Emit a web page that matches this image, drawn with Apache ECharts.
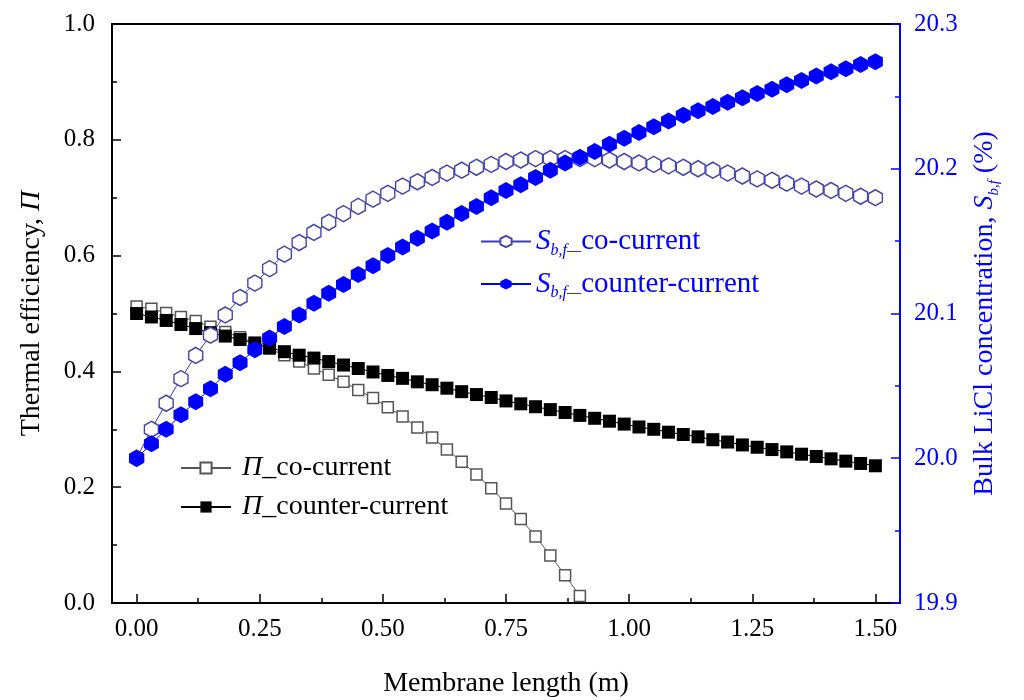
<!DOCTYPE html>
<html>
<head>
<meta charset="utf-8">
<title>Thermal efficiency and LiCl concentration</title>
<script src="https://cdn.jsdelivr.net/npm/echarts@6/dist/echarts.min.js"></script>
<style>
  html, body { margin: 0; padding: 0; background: #fff; }
  #main { width: 1024px; height: 700px; }
</style>
</head>
<body>
<div id="main"></div>
<script>
// membrane length (m)
var lengthX = [0.00, 0.03, 0.06, 0.09, 0.12, 0.15, 0.18, 0.21, 0.24, 0.27,
  0.30, 0.33, 0.36, 0.39, 0.42, 0.45, 0.48, 0.51, 0.54, 0.57,
  0.60, 0.63, 0.66, 0.69, 0.72, 0.75, 0.78, 0.81, 0.84, 0.87,
  0.90, 0.93, 0.96, 0.99, 1.02, 1.05, 1.08, 1.11, 1.14, 1.17,
  1.20, 1.23, 1.26, 1.29, 1.32, 1.35, 1.38, 1.41, 1.44, 1.47, 1.50];

// thermal efficiency, co-current (stops at 0.90 m)
var piCo = [0.512, 0.508, 0.501, 0.494, 0.487, 0.477, 0.468, 0.459, 0.449, 0.439,
  0.428, 0.417, 0.405, 0.394, 0.382, 0.368, 0.354, 0.338, 0.322, 0.303,
  0.286, 0.265, 0.244, 0.222, 0.198, 0.172, 0.145, 0.115, 0.082, 0.048, 0.012];

// thermal efficiency, counter-current
var piCounter = [0.500, 0.494, 0.488, 0.481, 0.474, 0.467, 0.461, 0.455, 0.449, 0.441,
  0.434, 0.428, 0.423, 0.417, 0.411, 0.405, 0.399, 0.393, 0.388, 0.382,
  0.377, 0.371, 0.365, 0.360, 0.355, 0.349, 0.344, 0.339, 0.334, 0.329,
  0.324, 0.319, 0.314, 0.309, 0.304, 0.300, 0.295, 0.291, 0.287, 0.282,
  0.278, 0.273, 0.269, 0.265, 0.261, 0.257, 0.253, 0.249, 0.245, 0.241, 0.237];

// bulk LiCl concentration (%), co-current
var sCo = [20.000, 20.020, 20.038, 20.055, 20.071, 20.085, 20.099, 20.111, 20.121, 20.131,
  20.141, 20.149, 20.156, 20.163, 20.169, 20.174, 20.179, 20.183, 20.188, 20.191,
  20.194, 20.197, 20.199, 20.201, 20.203, 20.205, 20.206, 20.207, 20.207, 20.207,
  20.207, 20.207, 20.206, 20.205, 20.204, 20.203, 20.202, 20.201, 20.200, 20.199,
  20.197, 20.195, 20.193, 20.192, 20.190, 20.188, 20.186, 20.185, 20.183, 20.181, 20.180];

// bulk LiCl concentration (%), counter-current
var sCounter = [20.000, 20.010, 20.020, 20.030, 20.039, 20.048, 20.058, 20.066, 20.075, 20.083,
  20.091, 20.099, 20.107, 20.114, 20.120, 20.127, 20.133, 20.140, 20.146, 20.152,
  20.157, 20.163, 20.169, 20.174, 20.180, 20.185, 20.189, 20.194, 20.199, 20.204,
  20.208, 20.212, 20.217, 20.221, 20.225, 20.229, 20.233, 20.237, 20.240, 20.243,
  20.246, 20.249, 20.252, 20.255, 20.258, 20.261, 20.264, 20.267, 20.269, 20.272, 20.274];

var xTickMajor = [0, 0.25, 0.5, 0.75, 1.0, 1.25, 1.5];
var xTickMinor = [0.125, 0.375, 0.625, 0.875, 1.125, 1.375];

function pairs(xs, ys) {
  var out = [];
  for (var i = 0; i < ys.length; i++) out.push([xs[i], ys[i]]);
  return out;
}

var FONT = '"Liberation Serif", "DejaVu Serif", serif';
var BLUE = '#0000ff';
var hexagon = 'path://M0,-10 L8.66,-5 L8.66,5 L0,10 L-8.66,5 L-8.66,-5 Z';

var myChart = echarts.init(document.getElementById('main'));
var option = {
  backgroundColor: '#fff',
  animation: false,
  textStyle: { fontFamily: FONT },
  grid: { left: 112, right: 124, top: 24, bottom: 97, containLabel: false, outerBoundsMode: 'none' },
  legend: [{
    data: ['sCo', 'sCounter'],
    orient: 'vertical',
    left: 475,
    top: 222,
    itemWidth: 50,
    itemHeight: 14,
    itemGap: 11,
    formatter: function (name) {
      return '{s|S}{sub|b,f—}' + (name === 'sCo' ? 'co-current' : 'counter-current');
    },
    textStyle: {
      color: BLUE, fontFamily: FONT, fontSize: 29, padding: [0, 0, 0, 0],
      rich: {
        s: { fontFamily: FONT, fontStyle: 'italic', fontSize: 29, color: BLUE, lineHeight: 34 },
        sub: { fontFamily: FONT, fontStyle: 'italic', fontSize: 16, color: BLUE, verticalAlign: 'bottom', lineHeight: 34, padding: [14, 0, 0, 0] }
      }
    }
  }, {
    data: ['piCo', 'piCounter'],
    orient: 'vertical',
    left: 175,
    top: 449,
    itemWidth: 50,
    itemHeight: 14,
    itemGap: 11,
    formatter: function (name) {
      return '{p|Π}_' + (name === 'piCo' ? 'co-current' : 'counter-current');
    },
    textStyle: {
      color: '#000', fontFamily: FONT, fontSize: 28, padding: [0, 0, 0, 6],
      rich: {
        p: { fontFamily: FONT, fontStyle: 'italic', fontSize: 28, color: '#000', lineHeight: 32 }
      }
    }
  }],
  xAxis: [{
    type: 'value',
    position: 'bottom',
    min: -0.05,
    max: 1.55,
    name: 'Membrane length (m)',
    nameLocation: 'middle',
    nameGap: 67,
    nameTextStyle: { fontFamily: FONT, fontSize: 28, color: '#000' },
    axisLine: { onZero: false, lineStyle: { color: '#000', width: 2 } },
    axisTick: { inside: true, length: 9, lineStyle: { color: '#000', width: 1.5 }, customValues: xTickMajor },
    axisLabel: {
      customValues: xTickMajor,
      margin: 14,
      fontFamily: FONT, fontSize: 25, color: '#000',
      formatter: function (v) { return v.toFixed(2); }
    },
    splitLine: { show: false }
  }, {
    type: 'value',
    position: 'bottom',
    min: -0.05,
    max: 1.55,
    axisLine: { show: false, onZero: false },
    axisTick: { inside: true, length: 5, lineStyle: { color: '#000', width: 1.5 }, customValues: xTickMinor },
    axisLabel: { show: false },
    splitLine: { show: false }
  }, {
    type: 'value',
    position: 'top',
    min: -0.05,
    max: 1.55,
    axisLine: { onZero: false, lineStyle: { color: '#000', width: 2 } },
    axisTick: { show: false },
    axisLabel: { show: false },
    splitLine: { show: false }
  }],
  yAxis: [{
    type: 'value',
    position: 'left',
    min: 0,
    max: 1,
    interval: 0.2,
    name: '{t|Thermal efficiency, }{p|Π}',
    nameLocation: 'middle',
    nameGap: 66,
    nameRotate: 90,
    nameTextStyle: {
      rich: {
        t: { fontFamily: FONT, fontSize: 28, color: '#000' },
        p: { fontFamily: FONT, fontSize: 28, fontStyle: 'italic', color: '#000' }
      }
    },
    axisLine: { show: true, onZero: false, lineStyle: { color: '#000', width: 2 } },
    axisTick: { inside: true, length: 9, lineStyle: { color: '#000', width: 1.5 } },
    minorTick: { show: true, splitNumber: 2, length: 5, lineStyle: { color: '#000', width: 1.5 } },
    axisLabel: {
      margin: 17, fontFamily: FONT, fontSize: 25, color: '#000',
      formatter: function (v) { return v.toFixed(1); }
    },
    splitLine: { show: false }
  }, {
    type: 'value',
    position: 'right',
    min: 19.9,
    max: 20.3,
    interval: 0.1,
    name: '{t|Bulk LiCl concentration, }{s|S}{sub|b,f}{t| (%)}',
    nameLocation: 'middle',
    nameGap: 68,
    nameRotate: 90,
    nameTextStyle: {
      rich: {
        t: { fontFamily: FONT, fontSize: 28, color: BLUE, lineHeight: 34 },
        s: { fontFamily: FONT, fontSize: 28, fontStyle: 'italic', color: BLUE, lineHeight: 34 },
        sub: { fontFamily: FONT, fontSize: 15, fontStyle: 'italic', color: BLUE, verticalAlign: 'bottom', lineHeight: 34, padding: [14, 0, 0, 0] }
      }
    },
    axisLine: { show: true, onZero: false, lineStyle: { color: BLUE, width: 2 } },
    axisTick: { inside: true, length: 9, lineStyle: { color: BLUE, width: 1.5 } },
    minorTick: { show: true, splitNumber: 2, length: 5, lineStyle: { color: BLUE, width: 1.5 } },
    axisLabel: {
      margin: 14, fontFamily: FONT, fontSize: 25, color: BLUE,
      formatter: function (v) { return v.toFixed(1); }
    },
    splitLine: { show: false }
  }],
  series: [{
    name: 'piCo',
    type: 'line',
    xAxisIndex: 0,
    yAxisIndex: 0,
    data: pairs(lengthX, piCo),
    symbol: 'rect',
    symbolSize: 11,
    showAllSymbol: true,
    lineStyle: { color: '#555', width: 1 },
    itemStyle: { color: '#fff', borderColor: '#555', borderWidth: 1.5 },
    z: 2
  }, {
    name: 'piCounter',
    type: 'line',
    xAxisIndex: 0,
    yAxisIndex: 0,
    data: pairs(lengthX, piCounter),
    symbol: 'rect',
    symbolSize: 13,
    showAllSymbol: true,
    lineStyle: { color: '#000', width: 1 },
    itemStyle: { color: '#000', borderColor: '#000', borderWidth: 0 },
    z: 3
  }, {
    name: 'sCo',
    type: 'line',
    xAxisIndex: 0,
    yAxisIndex: 1,
    data: pairs(lengthX, sCo),
    symbol: hexagon,
    symbolSize: [14, 16],
    showAllSymbol: true,
    lineStyle: { color: '#3c3cb4', width: 1 },
    itemStyle: { color: '#fff', borderColor: '#4646aa', borderWidth: 1.5 },
    z: 4
  }, {
    name: 'sCounter',
    type: 'line',
    xAxisIndex: 0,
    yAxisIndex: 1,
    data: pairs(lengthX, sCounter),
    symbol: hexagon,
    symbolSize: [15, 17],
    showAllSymbol: true,
    lineStyle: { color: BLUE, width: 1 },
    itemStyle: { color: BLUE, borderColor: BLUE, borderWidth: 0 },
    z: 5
  }]
};
myChart.setOption(option);
</script>
</body>
</html>
